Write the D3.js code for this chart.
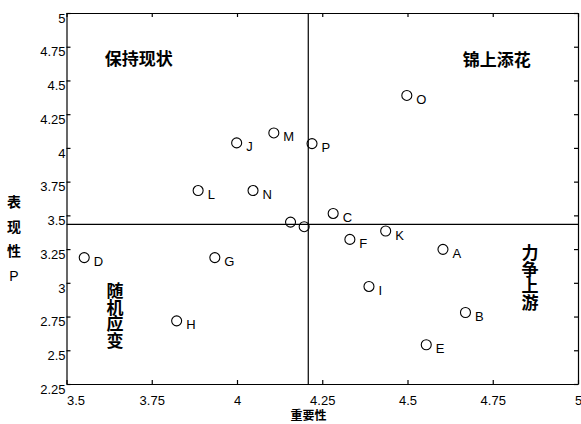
<!DOCTYPE html>
<html>
<head>
<meta charset="utf-8">
<script src="https://cdn.jsdelivr.net/npm/d3@7"></script>
<style>
  body { margin: 0; background: #fff; }
  svg text { font-family: "Liberation Sans", Arial, sans-serif; fill: #000; }
  .cn { font-family: "Noto Sans CJK SC", sans-serif; font-weight: bold; }
  .vert { writing-mode: vertical-rl; text-orientation: upright; }
</style>
</head>
<body>
<div id="chart"></div>
<script>
// 重要性 (x) / 表现性 P (y)
const names = ["A", "B", "C", "D", "E", "F", "G", "H", "I", "J", "K", "L", "M", "N", "O", "P", "", ""]
const importance = [4.604, 4.670, 4.282, 3.552, 4.555, 4.331, 3.935, 3.823, 4.387, 3.999, 4.436, 3.886, 4.108, 4.047, 4.498, 4.220, 4.157, 4.197]
const performance = [3.248, 2.780, 3.514, 3.187, 2.541, 3.322, 3.187, 2.718, 2.973, 4.037, 3.384, 3.684, 4.111, 3.684, 4.389, 4.032, 3.450, 3.416]
const xTicks = [3.5, 3.75, 4, 4.25, 4.5, 4.75, 5]
const yTicks = [2.25, 2.5, 2.75, 3, 3.25, 3.5, 3.75, 4, 4.25, 4.5, 4.75, 5]
const meanImportance = 4.209
const meanPerformance = 3.433
const quadrants = [
    {text: "保持现状", x: 3.712, y: 4.66, vertical: false},
    {text: "锦上添花", x: 4.762, y: 4.65, vertical: false},
    {text: "随机应变", x: 3.642, y: 2.76, vertical: true},
    {text: "力争上游", x: 4.859, y: 3.04, vertical: true}
]

const width = 581, height = 424
const margin = ({top: 13, right: 3, bottom: 40, left: 66.5})

const svg = d3.select("#chart").append("svg")
    .attr("width", width)
    .attr("height", height)

const xScale = d3.scaleLinear()
    .domain([3.5, 5])
    .range([margin.left, width - margin.right])
const yScale = d3.scaleLinear()
    .domain([2.25, 5])
    .range([height - margin.bottom, margin.top])

const tickLen = 4
const fmt = d => String(d)

// axes, ticks pointing inward
const xAxisG = svg.append("g")
    .attr("transform", `translate(0,${yScale(2.25)})`)
    .call(d3.axisBottom(xScale).tickValues(xTicks).tickFormat(fmt).tickSizeInner(-tickLen).tickSizeOuter(0).tickPadding(12))
// first label sits to the right of the corner, like the original
xAxisG.selectAll(".tick text").filter(d => d === 3.5).attr("text-anchor", "start")
svg.append("g")
    .attr("transform", `translate(0,${yScale(5)})`)
    .call(d3.axisTop(xScale).tickValues(xTicks).tickFormat("").tickSizeInner(-tickLen).tickSizeOuter(0))
const yAxisG = svg.append("g")
    .attr("transform", `translate(${xScale(3.5)},0)`)
    .call(d3.axisLeft(yScale).tickValues(yTicks).tickFormat(fmt).tickSizeInner(-tickLen).tickSizeOuter(0).tickPadding(1))
yAxisG.selectAll(".tick text").attr("dy", "0.71em")
svg.append("g")
    .attr("transform", `translate(${xScale(5)},0)`)
    .call(d3.axisRight(yScale).tickValues(yTicks).tickFormat("").tickSizeInner(-tickLen).tickSizeOuter(0))

svg.selectAll(".tick text")
    .attr("font-size", 13)
    .attr("font-family", "Liberation Sans, Arial, sans-serif")
svg.selectAll(".domain, .tick line").attr("stroke", "#000").attr("stroke-width", 1.2)

// mean lines
svg.append("line")
    .attr("x1", xScale(3.5)).attr("x2", xScale(5))
    .attr("y1", yScale(meanPerformance)).attr("y2", yScale(meanPerformance))
    .attr("stroke", "#000").attr("stroke-width", 1.2)
svg.append("line")
    .attr("x1", xScale(meanImportance)).attr("x2", xScale(meanImportance))
    .attr("y1", yScale(2.25)).attr("y2", yScale(5))
    .attr("stroke", "#000").attr("stroke-width", 1.2)

const data = names.map((n, i) => ({name: n, x: importance[i], y: performance[i]}))

svg.append("g").selectAll("circle")
    .data(data)
    .join("circle")
    .attr("cx", d => xScale(d.x))
    .attr("cy", d => yScale(d.y))
    .attr("r", 5)
    .attr("fill", "none")
    .attr("stroke", "#000")
    .attr("stroke-width", 1.1)

svg.append("g").selectAll("text")
    .data(data.filter(d => d.name))
    .join("text")
    .attr("x", d => xScale(d.x) + 9.5)
    .attr("y", d => yScale(d.y) + 8.5)
    .attr("font-size", 13)
    .text(d => d.name)

// quadrant captions
quadrants.forEach(q => {
    const t = svg.append("text")
        .attr("class", q.vertical ? "cn vert" : "cn")
        .attr("font-size", 17)
        .attr("text-anchor", "middle")
        .text(q.text)
    if (!q.vertical) {
        t.attr("x", xScale(q.x)).attr("y", yScale(q.y) + 6)
    } else {
        t.attr("x", xScale(q.x)).attr("y", yScale(q.y))
            .attr("letter-spacing", -0.5)
    }
})

// axis titles
svg.append("text")
    .attr("class", "cn")
    .attr("x", xScale(4.21))
    .attr("y", height - 4)
    .attr("text-anchor", "middle")
    .attr("font-size", 12)
    .text("重要性")

const yTitle = ["表", "现", "性", "P"]
svg.append("g").selectAll("text")
    .data(yTitle)
    .join("text")
    .attr("class", (d, i) => i < 3 ? "cn" : null)
    .attr("x", 14)
    .attr("y", (d, i) => 207 + i * 24.5)
    .attr("text-anchor", "middle")
    .attr("font-size", 14)
    .text(d => d)
</script>
</body>
</html>
